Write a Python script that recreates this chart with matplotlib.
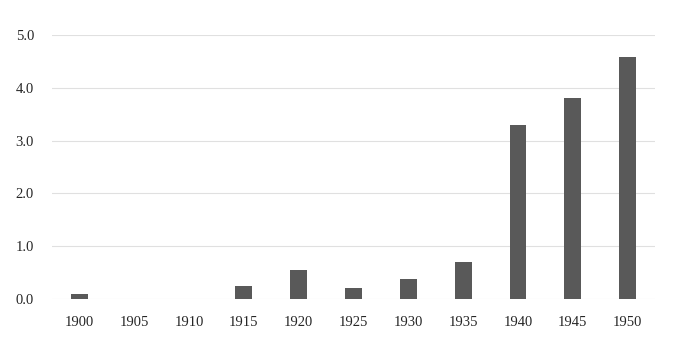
import numpy as np
import matplotlib.pyplot as plt

plt.rcParams['font.family'] = ['Liberation Serif', 'DejaVu Serif']

years = ['1900', '1905', '1910', '1915', '1920', '1925', '1930', '1935', '1940', '1945', '1950']
values = [0.10, 0.0, 0.0, 0.25, 0.55, 0.21, 0.38, 0.70, 3.30, 3.81, 4.58]
yticks = [0, 1, 2, 3, 4, 5]

fig = plt.figure(figsize=(6.76, 3.54), dpi=100)
ax = fig.add_axes([0.077, 0.155, 0.892, 0.746])

x = np.arange(len(years))
ax.bar(x, values, width=0.31, color='#595959', zorder=3)

ax.set_xlim(-0.5, len(years) - 0.5)
ax.set_ylim(0, 5)
ax.set_yticks(yticks)
ax.set_yticklabels(['%.1f' % v for v in yticks])
ax.set_xticks(x)
ax.set_xticklabels(years)

ax.grid(axis='y', color='#e0e0e0', linewidth=0.8, zorder=0)
for s in ax.spines.values():
    s.set_visible(False)
ax.tick_params(axis='both', length=0, labelsize=10.5, colors='#262626')
ax.tick_params(axis='x', pad=12)
ax.tick_params(axis='y', pad=13)

fig.savefig('out.png', dpi=100)
